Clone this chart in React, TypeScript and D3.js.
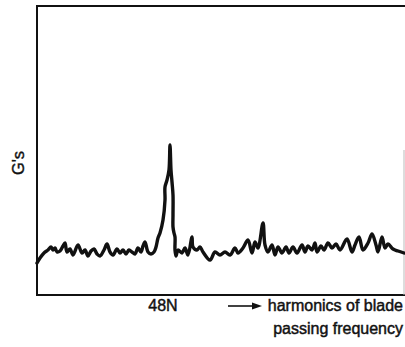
import React from "react";
import * as d3 from "d3";

// Trace of vibration spectrum (x: frequency position, y: amplitude in G's, arbitrary units)
const traceX = [0, 3, 7, 11, 14, 16, 18, 20, 23, 26, 28, 30, 33, 36, 41, 45, 48, 51, 54, 57, 60, 63, 67, 70, 73, 76, 80, 83, 86, 89, 92, 95, 98, 101, 104, 106, 108, 111, 114, 117, 119, 121, 123, 126, 128, 128, 130, 132, 133, 134, 135, 136, 136, 136, 137, 138, 138, 139, 141, 145, 148, 151, 155, 156, 160, 163, 166, 173, 178, 183, 188, 193, 198, 201, 206, 211, 215, 218, 221, 226, 228, 231, 235, 238, 241, 245, 249, 252, 256, 260, 265, 268, 271, 275, 278, 280, 284, 287, 291, 295, 299, 303, 310, 315, 318, 322, 326, 331, 335, 339, 341, 345, 348, 351, 356, 361, 367];
const traceY = [32, 37, 42, 45, 48, 45, 47, 43, 44, 49, 52, 43, 46, 40, 50, 42, 45, 39, 44, 46, 41, 39, 45, 51, 43, 40, 46, 42, 45, 41, 45, 43, 41, 47, 43, 49, 53, 43, 41, 43, 48, 57, 62, 75, 95, 108, 115, 125, 150, 125, 113, 100, 80, 68, 62, 58, 45, 39, 45, 42, 47, 40, 58, 48, 45, 48, 43, 35, 43, 40, 43, 40, 47, 42, 47, 55, 42, 53, 47, 72, 50, 43, 50, 40, 48, 42, 48, 42, 48, 42, 50, 43, 49, 45, 52, 43, 49, 45, 52, 47, 51, 45, 56, 43, 50, 58, 45, 52, 61, 50, 43, 58, 47, 51, 46, 44, 42];

const xDomain = [0, 367];
const yDomain = [0, 289];
const peakLabel = "48N";
const yLabel = "G's";
const xLabelLines = ["harmonics of blade", "passing frequency"];
const peakLabelX = 126;

const W = 405;
const H = 347;
const left = 37;
const right = 404;
const top = 6;
const bottom = 295;

export default function App() {
  const x = d3.scaleLinear().domain(xDomain).range([left, right]);
  const y = d3.scaleLinear().domain(yDomain).range([bottom, top]);
  const pts: [number, number][] = traceX.map((v, i) => [v, traceY[i]]);
  const line = d3
    .line<[number, number]>()
    .x((d) => x(d[0]))
    .y((d) => y(d[1]))
    .curve(d3.curveCatmullRom.alpha(0.5));
  const font = "'Liberation Sans', Arial, Helvetica, sans-serif";
  return (
    <svg
      width={W}
      height={H}
      style={{ position: "absolute", left: 0, top: 0, background: "#fff" }}
    >
      <rect x={0} y={0} width={W} height={H} fill="#fff" />
      {/* frame */}
      <line x1={left - 1} x2={W} y1={top} y2={top} stroke="#111" strokeWidth={2} />
      <line x1={left} x2={left} y1={top - 1} y2={bottom + 1} stroke="#111" strokeWidth={2} />
      <line x1={left - 1} x2={right + 1} y1={bottom} y2={bottom} stroke="#111" strokeWidth={2} />
      <line x1={right} x2={right} y1={150} y2={bottom} stroke="#bbb" strokeWidth={1} />
      {/* trace */}
      <path
        d={line(pts) || ""}
        fill="none"
        stroke="#111"
        strokeWidth={3.4}
        strokeLinejoin="round"
        strokeLinecap="round"
      />
      {/* labels */}
      <text
        transform={`translate(24,163) rotate(-90)`}
        textAnchor="middle"
        fontFamily={font}
        fontSize={16.5}
        fill="#111"
        stroke="#111"
        strokeWidth={0.4}
      >
        {yLabel}
      </text>
      <text
        x={x(peakLabelX)}
        y={311}
        textAnchor="middle"
        fontFamily={font}
        fontSize={16}
        fill="#111"
        stroke="#111"
        strokeWidth={0.45}
      >
        {peakLabel}
      </text>
      <line x1={228} x2={253} y1={306} y2={306} stroke="#111" strokeWidth={1.6} />
      <path d="M252,302.5 L262,306 L252,309.5 Z" fill="#111" />
      {xLabelLines.map((t, i) => (
        <text
          key={i}
          x={403}
          y={311 + i * 23}
          textAnchor="end"
          fontFamily={font}
          fontSize={16}
          fill="#111"
          stroke="#111"
          strokeWidth={0.45}
        >
          {t}
        </text>
      ))}
    </svg>
  );
}
